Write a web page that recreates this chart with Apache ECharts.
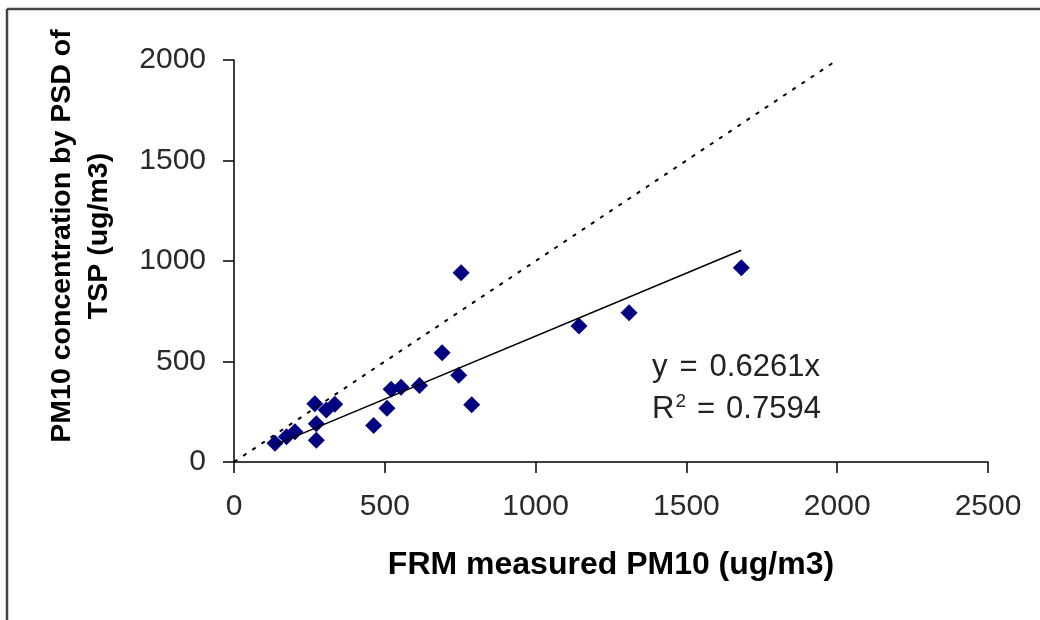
<!DOCTYPE html>
<html>
<head>
<meta charset="utf-8">
<title>PM10: FRM vs PSD of TSP</title>
<script src="https://cdn.jsdelivr.net/npm/echarts@6/dist/echarts.min.js"></script>
<style>
  html, body { margin: 0; padding: 0; background: #fff; }
  #chart { width: 1040px; height: 620px; }
</style>
</head>
<body>
<div id="chart"></div>
<script>
// FRM measured PM10 (ug/m3) for each sample
const frmMeasured = [136, 174, 202, 268, 273, 273, 306, 334, 463, 507, 521, 554, 615, 690, 745, 753, 788, 1144, 1310, 1682];
// PM10 estimated from the particle size distribution of TSP (ug/m3)
const psdEstimated = [93, 126, 151, 290, 190, 108, 259, 287, 182, 267, 362, 372, 381, 544, 431, 942, 285, 677, 743, 967];

// Zero-intercept linear fit reported on the chart
const fitSlope = 0.6261;
const fitR2 = '0.7594';

// Axis ranges and tick spacing
const xAxisMax = 2500;
const yAxisMax = 2000;
const tickStep = 500;
// Extent of the 1:1 reference line
const oneToOneMax = 2000;

const FONT = "'Liberation Sans', Arial, Helvetica, sans-serif";

const points = frmMeasured.map((x, i) => [x, psdEstimated[i]]);
const xMin = Math.min(...frmMeasured);
const xMax = Math.max(...frmMeasured);
const fitLine = [[xMin, fitSlope * xMin], [xMax, fitSlope * xMax]];
const identityLine = [[0, 0], [oneToOneMax, oneToOneMax]];

const plainNumber = v => String(v);

const chart = echarts.init(document.getElementById('chart'), null, { renderer: 'canvas' });

chart.setOption({
  animation: false,
  backgroundColor: '#ffffff',
  grid: { left: 234, right: 52, top: 60, bottom: 158, containLabel: false },
  xAxis: {
    type: 'value',
    min: 0,
    max: xAxisMax,
    interval: tickStep,
    splitLine: { show: false },
    axisLine: { onZero: false, lineStyle: { color: '#000', width: 1.5 } },
    axisTick: { show: true, inside: false, length: 11, lineStyle: { color: '#000', width: 1.5 } },
    axisLabel: { margin: 30, fontSize: 30, color: '#2a2a2a', fontFamily: FONT, formatter: plainNumber }
  },
  yAxis: {
    type: 'value',
    min: 0,
    max: yAxisMax,
    interval: tickStep,
    splitLine: { show: false },
    axisLine: { show: true, onZero: false, lineStyle: { color: '#000', width: 1.5 } },
    axisTick: { show: true, inside: false, length: 11, lineStyle: { color: '#000', width: 1.5 } },
    axisLabel: { margin: 28, fontSize: 30, color: '#2a2a2a', fontFamily: FONT, formatter: plainNumber }
  },
  series: [
    {
      name: 'Samples',
      type: 'scatter',
      data: points,
      symbol: 'diamond',
      symbolSize: 17,
      itemStyle: { color: '#000080', opacity: 1 },
      z: 2
    },
    {
      name: 'Linear fit',
      type: 'line',
      data: fitLine,
      showSymbol: false,
      symbol: 'none',
      lineStyle: { color: '#000', width: 1.6 },
      z: 3
    },
    {
      name: '1:1',
      type: 'line',
      data: identityLine,
      showSymbol: false,
      symbol: 'none',
      lineStyle: { color: '#000', width: 2, type: [4, 7] },
      z: 3
    }
  ],
  graphic: [
    // outer frame (left and top edges)
    { type: 'line', shape: { x1: 7, y1: 9, x2: 1040, y2: 9 }, style: { stroke: '#444', lineWidth: 2.5 } },
    { type: 'line', shape: { x1: 7, y1: 9, x2: 7, y2: 620 }, style: { stroke: '#444', lineWidth: 2.5 } },
    // y-axis title
    {
      type: 'text',
      x: 81,
      y: 236,
      rotation: Math.PI / 2,
      style: {
        text: 'PM10 concentration by PSD of\nTSP (ug/m3)',
        font: 'bold 28.5px ' + FONT,
        fill: '#000',
        align: 'center',
        verticalAlign: 'middle',
        lineHeight: 37
      }
    },
    // x-axis title
    {
      type: 'text',
      x: 611,
      y: 565,
      style: {
        text: 'FRM measured PM10 (ug/m3)',
        font: 'bold 32px ' + FONT,
        fill: '#000',
        align: 'center',
        verticalAlign: 'middle'
      }
    },
    // fit equation
    {
      type: 'text',
      x: 652,
      y: 367,
      style: {
        text: '{a|y}{e|=}{a|0.' + String(fitSlope).split('.')[1] + 'x}',
        verticalAlign: 'middle',
        rich: {
          a: { font: '31px ' + FONT, fill: '#222' },
          e: { font: '31px ' + FONT, fill: '#222', padding: [0, 12, 0, 12] }
        }
      }
    },
    {
      type: 'text',
      x: 652,
      y: 409,
      style: {
        text: '{a|R}{s|2}{e|=}{a|' + fitR2 + '}',
        verticalAlign: 'middle',
        rich: {
          a: { font: '31px ' + FONT, fill: '#222' },
          s: { font: '19px ' + FONT, fill: '#222', padding: [0, 0, 15, 1] },
          e: { font: '31px ' + FONT, fill: '#222', padding: [0, 11, 0, 11] }
        }
      }
    }
  ]
});
</script>
</body>
</html>
